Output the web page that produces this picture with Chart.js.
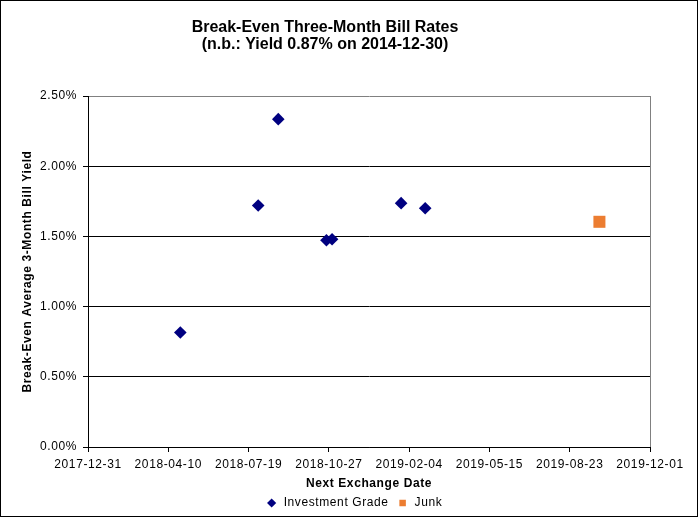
<!doctype html>
<html>
  <head>
    <script src="https://cdn.jsdelivr.net/npm/chart.js"></script>
    <style>
      html, body { margin: 0; padding: 0; background: #fff; }
      canvas { display: block; }
    </style>
  </head>
  <body>
    <canvas id="billChart" width="698" height="517"></canvas>
    <script>
      // x axis runs from this date, one tick every 100 days
      const axisStart = "2017-12-31";
      const axisDays = 700;
      const tickStepDays = 100;

      // break-even yields in percent
      const gradeDates = ["2018-04-25", "2018-07-31", "2018-08-25", "2018-10-24", "2018-10-31", "2019-01-25", "2019-02-24"];
      const gradeYields = [0.815, 1.72, 2.335, 1.473, 1.48, 1.737, 1.70];
      const junkDates = ["2019-09-29"];
      const junkYields = [1.604];

      const yMax = 2.5;
      const yStep = 0.5;

      const startUTC = Date.parse(axisStart + "T00:00:00Z");
      function dayOf(s) {
        return Math.round((Date.parse(s + "T00:00:00Z") - startUTC) / 86400000);
      }
      function dateOf(d) {
        return new Date(startUTC + d * 86400000).toISOString().slice(0, 10);
      }
      function points(dates, vals) {
        return dates.map((d, i) => ({ x: dayOf(d), y: vals[i] }));
      }

      Chart.defaults.font.family = "'Liberation Sans', Arial, sans-serif";
      Chart.defaults.font.size = 12;
      Chart.defaults.color = "#000";

      // the small 12px text in the original is a bit wider (GDI rendering),
      // so space it out a little; the big title keeps normal spacing
      const spacing = {
        id: "spacing",
        beforeUpdate(chart) {
          chart.ctx.letterSpacing = "0.6px";
          const t = chart.titleBlock;
          if (t && !t._patched) {
            const orig = t.draw.bind(t);
            t.draw = function () {
              const c = this.ctx;
              const prev = c.letterSpacing;
              c.letterSpacing = "0px";
              orig();
              c.letterSpacing = prev;
            };
            t._patched = true;
          }
        },
        afterLayout(chart) {
          // legend sits a bit right of the plot centre in the original
          chart.legend.left += 29;
          chart.legend.right += 29;
        },
      };

      const frame = {
        id: "frame",
        afterDraw(chart) {
          const c = chart.ctx;
          c.save();
          c.strokeStyle = "#000";
          c.lineWidth = 1;
          c.strokeRect(0.5, 0.5, chart.width - 1, chart.height - 1);
          c.restore();
        },
      };

      const ctx = document.getElementById("billChart").getContext("2d");
      new Chart(ctx, {
        type: "scatter",
        data: {
          datasets: [
            {
              label: "Investment Grade",
              data: points(gradeDates, gradeYields),
              pointStyle: "rectRot",
              pointRadius: 6.3,
              pointHoverRadius: 6.3,
              backgroundColor: "#000080",
              borderColor: "#000080",
              borderWidth: 0,
            },
            {
              label: "Junk",
              data: points(junkDates, junkYields),
              pointStyle: "rect",
              pointRadius: 8.5,
              pointHoverRadius: 8.5,
              backgroundColor: "#EC7D31",
              borderColor: "#EC7D31",
              borderWidth: 0,
            },
          ],
        },
        options: {
          responsive: false,
          animation: false,
          events: [],
          layout: { padding: { left: 0, right: 48, top: 0, bottom: -2 } },
          plugins: {
            title: {
              display: true,
              text: ["Break-Even Three-Month Bill Rates", "(n.b.: Yield 0.87% on 2014-12-30)"],
              font: { size: 16, weight: "bold", lineHeight: "17px" },
              color: "#000",
              padding: { top: 19.5, bottom: 42.5 },
            },
            legend: {
              position: "bottom",
              labels: {
                usePointStyle: true,
                boxHeight: 6.5,
                padding: 8,
                font: { size: 12 },
              },
            },
            tooltip: { enabled: false },
          },
          scales: {
            x: {
              type: "linear",
              min: 0,
              max: axisDays,
              afterFit: (s) => { s.height = 42; },
              ticks: {
                stepSize: tickStepDays,
                autoSkip: false,
                maxRotation: 0,
                padding: 5,
                callback: (v) => dateOf(v),
              },
              grid: {
                color: (c) => (c.tick && c.tick.value === axisDays ? "#808080" : "rgba(0,0,0,0)"),
                tickColor: "#000",
                tickLength: 5,
              },
              border: { color: "#000" },
              title: {
                display: true,
                text: "Next Exchange Date",
                font: { size: 12, weight: "bold" },
                padding: { top: 0, bottom: -2 },
              },
            },
            y: {
              min: 0,
              max: yMax,
              afterFit: (s) => { s.width = 88; },
              ticks: {
                stepSize: yStep,
                padding: 6,
                callback: (v) => v.toFixed(2) + "%",
              },
              grid: {
                color: (c) => (c.tick && c.tick.value === yMax ? "#808080" : "#000"),
                tickColor: "#000",
                tickLength: 5,
              },
              border: { color: "#000" },
              title: {
                display: true,
                text: "Break-Even Average 3-Month Bill Yield",
                font: { size: 12, weight: "bold" },
                padding: { top: 20, bottom: 0 },
              },
            },
          },
        },
        plugins: [spacing, frame],
      });
    </script>
  </body>
</html>
